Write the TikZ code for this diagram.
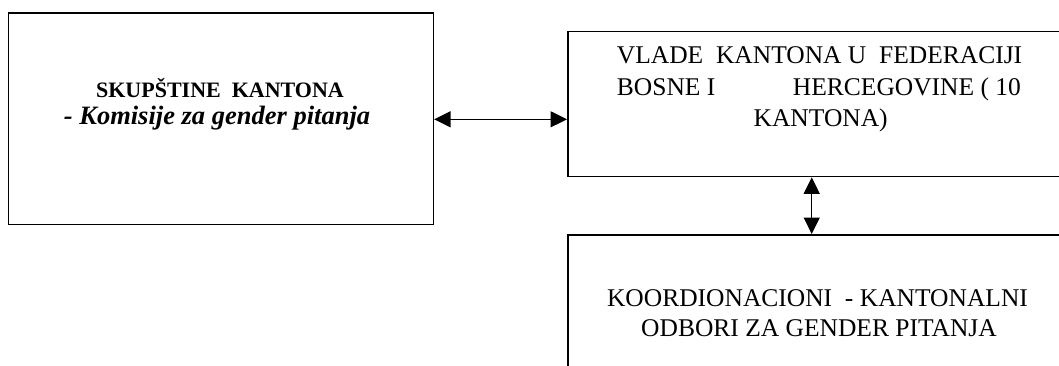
\documentclass[tikz,border=0pt]{standalone}
\usepackage{fontspec}
\setmainfont{Liberation Serif}
\usetikzlibrary{arrows.meta}
\tikzset{
  boxnode/.style={draw=black, line width=1.6pt, rectangle, inner sep=0pt, anchor=north west},
  txt/.style={inner sep=0pt, text=black},
  bigtxt/.style={txt, font=\fontsize{25.5}{30}\selectfont},
  biarrow/.style={line width=1.3pt, {Triangle[length=16.5pt,width=16pt]}-{Triangle[length=16.5pt,width=16pt]}}
}
\begin{document}
\begin{tikzpicture}[x=1pt,y=-1pt]
\useasboundingbox (0,0) rectangle (1059,365);
\clip (0,0) rectangle (1059,365);
\fill[white] (0,0) rectangle (1059,365);
% boxes
\node[boxnode, minimum width=425pt, minimum height=211.5pt] (skup) at (7.5,12.2) {};
\node[boxnode, minimum width=507pt, minimum height=145pt] (vlade) at (567,30.7) {};
\node[boxnode, minimum width=507pt, minimum height=160pt] (odbor) at (567,234) {};
% texts of the left box
\node[txt, anchor=base, font=\fontsize{22}{26}\selectfont\bfseries] (s1) at (220,97.5) {SKUPŠTINE\ \ KANTONA};
\node[txt, anchor=base, font=\fontsize{26.5}{30}\selectfont\bfseries\itshape] (s2) at (217,124.5) {- Komisije za gender pitanja};
% texts of the top right box
\node[bigtxt, anchor=base west] (v1) at (616.7,63.3) {VLADE\ \ KANTONA U\ \ FEDERACIJI};
\node[bigtxt, anchor=base west] (v2a) at (616.7,95) {BOSNE I};
\node[bigtxt, anchor=base west] (v2b) at (792.7,95) {HERCEGOVINE ( 10};
\node[bigtxt, anchor=base] (v3) at (820.7,126) {KANTONA)};
% texts of the bottom right box
\node[bigtxt, anchor=base] (o1) at (817.5,306) {KOORDIONACIONI\ \ - KANTONALNI};
\node[bigtxt, anchor=base] (o2) at (819,336) {ODBORI ZA GENDER PITANJA};
% connectors
\coordinate (hx) at (0,119.3);
\coordinate (vx) at (811.7,0);
\draw[biarrow] (skup.east |- hx) -- (vlade.west |- hx);
\draw[biarrow] (vlade.south -| vx) -- (odbor.north -| vx);
\end{tikzpicture}
\end{document}
